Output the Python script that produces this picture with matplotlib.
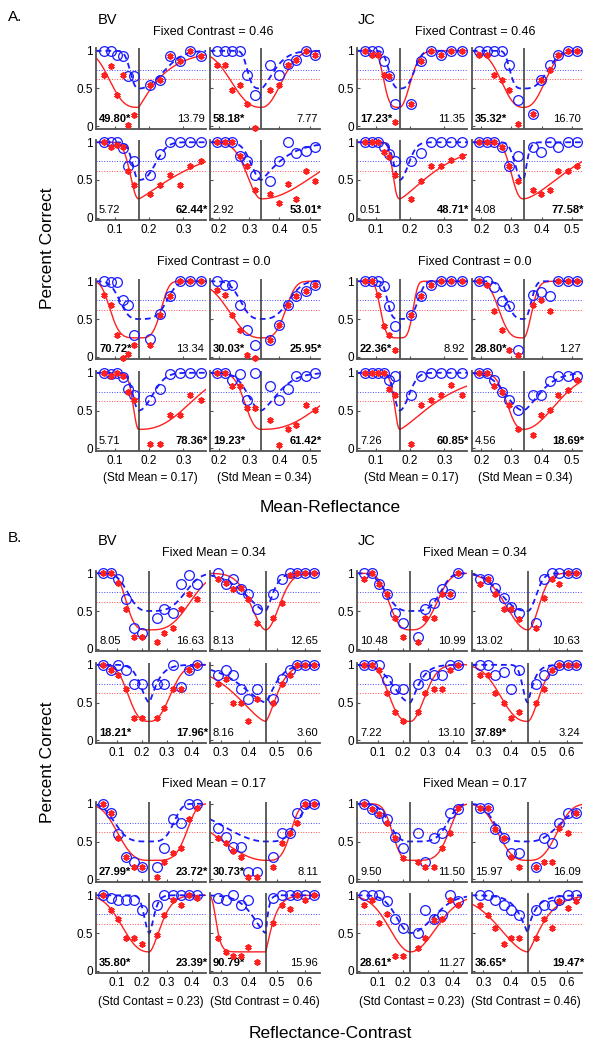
import numpy as np
import matplotlib
matplotlib.use('Agg')
import matplotlib.pyplot as plt

plt.rcParams['font.family'] = ['Liberation Sans', 'DejaVu Sans']

# comparison levels for each standard (6 below, 6 above the standard)
mean_017_x = [0.07, 0.089, 0.107, 0.125, 0.14, 0.156, 0.203, 0.232, 0.261, 0.29, 0.32, 0.35]
mean_034_x = [0.193, 0.22, 0.243, 0.268, 0.293, 0.32, 0.37, 0.398, 0.427, 0.456, 0.487, 0.518]
con_023_x = [0.045, 0.075, 0.105, 0.135, 0.17, 0.2, 0.26, 0.29, 0.325, 0.355, 0.39, 0.42]
con_046_x = [0.288, 0.318, 0.343, 0.373, 0.398, 0.428, 0.488, 0.518, 0.548, 0.573, 0.603, 0.633]

# panel order in every list: r1c1, r1c2, r2c1, r2c2, r3c1, r3c2, r4c1, r4c2
A_BV_circles = [
    [1.0, 1.0, 0.94, 0.93, 0.67, 0.67, 0.55, 0.61, 0.93, 0.87, 1.0, 0.93],
    [1.0, 1.0, 1.0, 1.0, 0.68, 0.42, 0.81, 0.68, 0.83, 0.875, 1.0, 0.94],
    [1.0, 1.0, 1.0, 0.92, 0.69, 0.75, 0.56, 0.84, 1.0, 1.0, 1.0, 1.0],
    [1.0, 1.0, 1.0, 0.82, 0.75, 0.56, 0.49, 0.75, 1.0, 0.86, 0.88, 0.94],
    [1.0, 0.99, 0.99, 0.75, 0.68, 0.29, 0.23, 0.56, 0.81, 1.0, 1.0, 1.0],
    [1.0, 0.95, 0.95, 0.68, 0.36, 0.16, 0.22, 0.42, 0.68, 0.8, 0.87, 0.95],
    [1.0, 0.98, 1.0, 0.95, 0.78, 0.71, 0.64, 0.78, 0.98, 1.0, 1.0, 1.0],
    [1.0, 1.0, 0.91, 0.98, 0.64, 1.0, 0.83, 0.64, 0.78, 0.96, 0.96, 1.0],
]
A_BV_stars = [
    [0.68, 0.80, 0.42, 0.68, 0.02, 0.15, 0.55, 0.61, 0.93, 0.87, 1.0, 0.93],
    [0.81, 0.81, 0.48, 0.54, 0.29, -0.02, 0.48, 0.54, 0.81, 0.875, 1.0, 0.94],
    [1.0, 0.94, 0.97, 0.94, 0.62, 0.43, 0.31, 0.43, 0.56, 0.43, 0.69, 0.75],
    [1.0, 1.0, 1.0, 0.82, 0.69, 0.37, 0.32, 0.19, 0.45, 0.25, 0.62, 0.49],
    [0.82, 0.69, 0.29, -0.02, 0.03, 0.16, 0.16, 0.55, 0.81, 1.0, 1.0, 1.0],
    [0.89, 0.82, 0.55, 0.36, 0.02, -0.02, 0.22, 0.42, 0.68, 0.8, 0.87, 0.95],
    [1.0, 0.96, 1.0, 0.96, 0.75, 0.64, 0.06, 0.06, 0.44, 0.44, 0.71, 0.64],
    [1.0, 1.0, 0.83, 0.83, 0.53, 0.53, 0.38, 0.04, 0.26, 0.31, 0.57, 0.51],
]
A_JC_circles = [
    [1.0, 1.0, 1.0, 0.87, 0.66, 0.29, 0.29, 0.87, 1.0, 0.94, 1.0, 1.0],
    [1.0, 1.0, 1.0, 1.0, 0.81, 0.35, 0.16, 0.61, 0.81, 0.94, 1.0, 1.0],
    [1.0, 1.0, 1.0, 0.94, 0.85, 0.75, 0.75, 0.86, 1.0, 1.0, 1.0, 1.0],
    [1.0, 1.0, 1.0, 0.94, 0.69, 0.82, 0.94, 0.87, 1.0, 0.94, 1.0, 1.0],
    [1.0, 1.0, 1.0, 0.94, 0.67, 0.41, 0.55, 0.81, 0.95, 1.0, 1.0, 1.0],
    [1.0, 1.0, 0.93, 0.74, 0.67, 0.09, 0.82, 0.86, 0.81, 1.0, 1.0, 1.0],
    [1.0, 1.0, 1.0, 1.0, 0.91, 0.96, 0.71, 0.96, 1.0, 1.0, 1.0, 1.0],
    [1.0, 1.0, 0.91, 0.75, 0.64, 0.51, 0.7, 0.71, 0.89, 0.96, 0.96, 0.96],
]
A_JC_stars = [
    [1.0, 0.94, 0.94, 0.68, 0.66, 0.05, 0.29, 0.87, 1.0, 0.94, 1.0, 1.0],
    [0.94, 0.94, 0.68, 0.61, 0.48, 0.03, 0.16, 0.61, 0.74, 0.94, 1.0, 1.0],
    [1.0, 1.0, 1.0, 0.87, 0.81, 0.56, 0.25, 0.49, 0.69, 0.69, 0.76, 0.82],
    [1.0, 1.0, 1.0, 0.94, 0.69, 0.49, 0.37, 0.32, 0.37, 0.62, 0.62, 0.69],
    [1.0, 1.0, 0.82, 0.41, 0.29, 0.09, 0.55, 0.81, 0.95, 1.0, 1.0, 1.0],
    [1.0, 0.95, 0.61, 0.36, 0.09, 0.02, 0.68, 0.75, 0.61, 1.0, 1.0, 1.0],
    [1.0, 1.0, 1.0, 1.0, 0.78, 0.71, 0.06, 0.57, 0.64, 0.71, 0.84, 0.71],
    [1.0, 1.0, 0.83, 0.75, 0.57, 0.25, 0.18, 0.44, 0.51, 0.7, 0.77, 0.91],
]
B_BV_circles = [
    [1.0, 1.0, 0.92, 0.66, 0.28, 0.21, 0.41, 0.52, 0.48, 0.86, 0.98, 0.86],
    [1.0, 0.86, 0.92, 0.79, 0.73, 0.53, 0.73, 0.92, 1.0, 1.0, 1.0, 1.0],
    [1.0, 0.93, 1.0, 0.93, 0.75, 0.75, 0.75, 0.75, 1.0, 0.7, 0.93, 1.0],
    [0.87, 0.93, 0.87, 0.68, 0.55, 0.68, 0.55, 0.81, 0.93, 1.0, 1.0, 1.0],
    [1.0, 0.88, 0.6, 0.29, 0.23, 0.16, 0.16, 0.41, 0.8, 0.74, 1.0, 1.0],
    [0.68, 0.56, 0.43, 0.43, 0.1, 0.1, 0.29, 0.61, 0.61, 0.88, 1.0, 1.0],
    [1.0, 0.96, 0.94, 0.94, 0.94, 0.8, 0.87, 1.0, 1.0, 1.0, 1.0, 1.0],
    [0.96, 0.94, 1.0, 0.87, 0.94, 0.63, 0.97, 1.0, 1.0, 1.0, 1.0, 1.0],
]
B_BV_stars = [
    [1.0, 1.0, 0.87, 0.53, 0.16, 0.16, 0.09, 0.21, 0.28, 0.53, 0.73, 0.66],
    [0.92, 0.87, 0.79, 0.8, 0.66, 0.34, 0.41, 0.6, 0.98, 1.0, 1.0, 1.0],
    [1.0, 0.93, 0.87, 0.68, 0.3, 0.3, 0.3, 0.43, 0.68, 0.68, 0.93, 1.0],
    [0.75, 0.81, 0.49, 0.49, 0.25, 0.55, 0.49, 0.75, 0.87, 1.0, 1.0, 1.0],
    [1.0, 0.88, 0.54, 0.29, 0.16, 0.16, 0.03, 0.23, 0.35, 0.41, 0.8, 0.95],
    [0.54, 0.48, 0.37, 0.29, 0.03, 0.03, 0.16, 0.48, 0.61, 0.75, 1.0, 1.0],
    [1.0, 0.81, 0.69, 0.43, 0.43, 0.36, 0.47, 0.74, 0.94, 0.87, 1.0, 0.96],
    [0.43, 0.25, 0.19, 0.19, 0.31, 0.12, 0.63, 0.87, 0.82, 1.0, 0.94, 1.0],
]
B_JC_circles = [
    [1.0, 1.0, 0.86, 0.73, 0.48, 0.34, 0.16, 0.53, 0.6, 0.79, 0.73, 1.0],
    [0.92, 0.92, 0.8, 0.67, 0.55, 0.47, 0.34, 0.92, 1.0, 1.0, 1.0, 1.0],
    [1.0, 1.0, 1.0, 0.8, 0.68, 0.68, 0.75, 0.87, 0.87, 0.87, 1.0, 1.0],
    [1.0, 1.0, 0.87, 0.9, 0.68, 0.93, 0.75, 0.87, 0.93, 1.0, 1.0, 1.0],
    [1.0, 0.93, 0.88, 0.8, 0.56, 0.41, 0.61, 0.23, 0.54, 0.61, 0.88, 0.93],
    [0.95, 0.95, 0.67, 0.54, 0.35, 0.35, 0.16, 0.54, 0.48, 0.74, 0.88, 0.88],
    [1.0, 1.0, 1.0, 0.93, 0.68, 0.56, 0.5, 0.81, 0.68, 0.74, 1.0, 0.93],
    [1.0, 1.0, 0.94, 0.87, 0.81, 0.74, 0.81, 0.87, 0.87, 0.94, 1.0, 1.0],
]
B_JC_stars = [
    [0.92, 1.0, 0.86, 0.72, 0.41, 0.16, 0.09, 0.41, 0.41, 0.73, 0.73, 1.0],
    [0.86, 0.92, 0.73, 0.53, 0.53, 0.4, 0.28, 0.67, 0.92, 0.86, 1.0, 1.0],
    [1.0, 1.0, 0.93, 0.62, 0.37, 0.25, 0.37, 0.62, 0.68, 0.68, 0.93, 1.0],
    [0.87, 0.87, 0.62, 0.49, 0.3, 0.37, 0.49, 0.68, 0.93, 1.0, 1.0, 1.0],
    [1.0, 0.93, 0.86, 0.75, 0.54, 0.28, 0.23, 0.16, 0.16, 0.41, 0.61, 0.95],
    [0.95, 0.95, 0.67, 0.54, 0.29, 0.16, 0.16, 0.23, 0.23, 0.68, 0.61, 0.88],
    [0.87, 0.94, 0.63, 0.75, 0.19, 0.19, 0.3, 0.43, 0.67, 0.68, 0.94, 0.87],
    [0.87, 0.74, 0.56, 0.36, 0.43, 0.43, 0.43, 0.69, 0.56, 0.93, 0.83, 0.93],
]

# fitted psychometric functions:
# distance from the standard at the threshold crossing, and slope,
# for [red left, red right, blue left, blue right]
A_BV_fits = [
    [0.086, 3, 0.058, 1.1, 0.026, 2.5, 0.078, 2.2],
    [0.105, 2.5, 0.072, 2.2, 0.047, 4, 0.045, 1.5],
    [0.027, 2.1, 0.136, 1.2, 0.02, 2, 0.053, 2.5],
    [0.053, 2, 0.2, 2, 0.038, 2, 0.062, 1.2],
    [0.083, 4.5, 0.065, 4, 0.056, 3, 0.083, 4],
    [0.111, 2.5, 0.081, 3.5, 0.071, 3, 0.092, 3],
    [0.018, 2, 0.156, 2.5, 0.019, 2, 0.046, 2],
    [0.057, 2.5, 0.215, 2.5, 0.05, 2, 0.06, 1.5],
]
A_JC_fits = [
    [0.047, 4, 0.034, 2, 0.032, 3, 0.044, 3],
    [0.077, 2.5, 0.075, 2.5, 0.046, 4, 0.082, 3],
    [0.021, 2.5, 0.106, 1.3, 0.019, 2, 0.029, 2],
    [0.043, 2.5, 0.148, 1.6, 0.031, 2.5, 0.012, 1.5],
    [0.056, 5, 0.039, 4, 0.036, 4, 0.054, 4],
    [0.082, 3.5, 0.029, 2, 0.058, 3, 0.027, 2.5],
    [0.017, 2, 0.111, 1.3, 0.018, 2, 0.031, 2],
    [0.058, 2.5, 0.117, 2, 0.066, 2, 0.059, 1.5],
]
B_BV_fits = [
    [0.093, 4, 0.164, 3, 0.088, 3, 0.144, 3.5],
    [0.059, 1.8, 0.055, 2, 0.082, 1.6, 0.028, 1.5],
    [0.088, 3, 0.087, 2.5, 0.039, 1.8, 0.029, 1.2],
    [0.116, 1.5, 0.043, 1.5, 0.098, 1.5, 0.036, 1.3],
    [0.129, 3, 0.148, 5, 0.139, 4, 0.097, 4],
    [0.2, 2, 0.09, 4, 0.176, 2, 0.111, 4],
    [0.116, 2.5, 0.049, 1.6, 0.023, 2, 0.02, 1.5],
    [0.177, 15, 0.025, 1.2, 0.052, 1.5, 0.008, 1.2],
]
B_JC_fits = [
    [0.087, 3, 0.107, 3, 0.099, 3, 0.12, 4],
    [0.087, 2, 0.045, 2, 0.103, 2.5, 0.034, 2],
    [0.089, 3, 0.063, 2, 0.075, 2, 0.035, 1.3],
    [0.105, 2.5, 0.045, 1.8, 0.021, 2, 0.019, 1.2],
    [0.073, 3, 0.153, 5, 0.087, 3, 0.148, 5],
    [0.109, 3, 0.106, 3, 0.121, 4, 0.121, 2.5],
    [0.095, 2, 0.116, 2, 0.063, 2, 0.103, 2],
    [0.116, 1.8, 0.054, 1.3, 0.031, 1.2, 0.019, 0.9],
]

A_BV_stats = [("49.80*", "13.79"), ("58.18*", "7.77"), ("5.72", "62.44*"), ("2.92", "53.01*"),
              ("70.72*", "13.34"), ("30.03*", "25.95*"), ("5.71", "78.36*"), ("19.23*", "61.42*")]
A_JC_stats = [("17.23*", "11.35"), ("35.32*", "16.70"), ("0.51", "48.71*"), ("4.08", "77.58*"),
              ("22.36*", "8.92"), ("28.80*", "1.27"), ("7.26", "60.85*"), ("4.56", "18.69*")]
B_BV_stats = [("8.05", "16.63"), ("8.13", "12.65"), ("18.21*", "17.96*"), ("8.16", "3.60"),
              ("27.99*", "23.72*"), ("30.73*", "8.11"), ("35.80*", "23.39*"), ("90.79*", "15.96")]
B_JC_stats = [("10.48", "10.99"), ("13.02", "10.63"), ("7.22", "13.10"), ("37.89*", "3.24"),
              ("9.50", "11.50"), ("15.97", "16.09"), ("28.61*", "11.27"), ("36.65*", "19.47*")]

A_std = [0.17, 0.34]
B_std = [0.23, 0.46]
A_xticks = [[0.1, 0.2, 0.3], [0.2, 0.3, 0.4, 0.5]]
B_xticks = [[0.1, 0.2, 0.3, 0.4], [0.3, 0.4, 0.5, 0.6]]
A_titles = ["Fixed Contrast = 0.46", "Fixed Contrast = 0.0"]
B_titles = ["Fixed Mean = 0.34", "Fixed Mean = 0.17"]
A_notes = ["(Std Mean = 0.17)", "(Std Mean = 0.34)"]
B_notes = ["(Std Contast = 0.23)", "(Std Contrast = 0.46)"]

BLUE = '#1a1aff'
RED = '#ff2020'
GRAY = '#505050'

W, H = 607, 1050
fig = plt.figure(figsize=(W / 100, H / 100), dpi=100)

PW, PH = 110.3, 80.0
col_px = {'BV': [95.7, 209.5], 'JC': [356.7, 471.7]}
A_rows_px = [88.5, 180, 319, 410.5]
B_rows_px = [611, 702.5, 841.5, 933]
A_xlims = [(0.045, 0.366), (0.168, 0.534)]
B_xlims = [(0.015, 0.456), (0.258, 0.655)]


def weibull(d, d50, slope, floor):
    a = d50 / np.log(2) ** (1 / slope)
    return floor + (1 - floor) * (1 - np.exp(-(d / a) ** slope))


def draw_panel(x0, yc, xs, circ, star, fit, std, xlim, xticks, stats, show_x, show_y):
    ax = fig.add_axes([x0 / W, 1 - (yc + PH / 2) / H, PW / W, PH / H])
    ax.axhline(0.75, color=BLUE, ls=':', lw=0.7, alpha=0.8)
    ax.axhline(0.625, color=RED, ls=':', lw=0.7, alpha=0.8)

    xl = np.linspace(xlim[0], std, 150)
    xr = np.linspace(std, xlim[1], 150)
    red = np.concatenate([weibull(std - xl, fit[0], fit[1], 0.25),
                          weibull(xr - std, fit[2], fit[3], 0.25)])
    blue = np.concatenate([weibull(std - xl, fit[4], fit[5], 0.5),
                           weibull(xr - std, fit[6], fit[7], 0.5)])
    xx = np.concatenate([xl, xr])
    ax.plot(xx, red, color=RED, lw=1.0)
    ax.plot(xx, blue, color=BLUE, lw=1.3, ls=(0, (3.2, 2.2)))
    ax.axvline(std, color='#333333', lw=1.1)

    ax.plot(xs, circ, 'o', ms=7, mfc='none', mec=BLUE, mew=0.9, clip_on=False, zorder=4)
    ax.plot(xs, star, marker=(6, 2, 0), ls='none', ms=4.5, mec=RED, mew=1.3,
            clip_on=False, zorder=5)

    ax.set_xlim(*xlim)
    ax.set_ylim(-0.03, 1.03)
    for s in ['top', 'right']:
        ax.spines[s].set_visible(False)
    for s in ['left', 'bottom']:
        ax.spines[s].set_color(GRAY)
        ax.spines[s].set_linewidth(1.3)
    ax.set_xticks(xticks)
    ax.set_yticks([0, 0.5, 1])
    ax.set_xticklabels([f"{v:g}" for v in xticks] if show_x else [])
    ax.set_yticklabels(["0", "0.5", "1"] if show_y else [])
    ax.tick_params(direction='in', length=2.5, width=0.8, color=GRAY,
                   labelsize=8.5, pad=2)
    ax.tick_params(axis='x', pad=3)

    left, right = stats
    ax.text(0.03, 0.12, left, transform=ax.transAxes, fontsize=8,
            ha='left', va='center', fontweight='bold' if '*' in left else 'normal')
    ax.text(1.02 if '*' in right else 0.985, 0.12, right, transform=ax.transAxes,
            fontsize=8, ha='right', va='center',
            fontweight='bold' if '*' in right else 'normal')


def draw_part(rows_px, xsets, stds, xlims, xticks, data):
    for subj, circles, stars, fits, stats in data:
        for i in range(8):
            r, c = divmod(i, 2)
            draw_panel(col_px[subj][c], rows_px[r], xsets[c], circles[i], stars[i],
                       fits[i], stds[c], xlims[c], xticks[c], stats[i],
                       show_x=(r % 2 == 1), show_y=(c == 0))


draw_part(A_rows_px, [mean_017_x, mean_034_x], A_std, A_xlims, A_xticks,
          [('BV', A_BV_circles, A_BV_stars, A_BV_fits, A_BV_stats),
           ('JC', A_JC_circles, A_JC_stars, A_JC_fits, A_JC_stats)])
draw_part(B_rows_px, [con_023_x, con_046_x], B_std, B_xlims, B_xticks,
          [('BV', B_BV_circles, B_BV_stars, B_BV_fits, B_BV_stats),
           ('JC', B_JC_circles, B_JC_stars, B_JC_fits, B_JC_stats)])


def ftext(x, y, s, **kw):
    fig.text(x / W, 1 - y / H, s, **kw)


# part letters, subjects, group titles
for letter, y_let, y_subj, titles, t_y, notes, n_y, ylab_y, xlab, xlab_y in [
        ("A.", 17, 20, A_titles, [32, 262], A_notes, 478, 248, "Mean-Reflectance", 508),
        ("B.", 538, 541, B_titles, [553.5, 784], B_notes, 1001.5, 762, "Reflectance-Contrast", 1033)]:
    ftext(8, y_let, letter, fontsize=11, va='center', ha='left')
    for subj, xs in [("BV", 98), ("JC", 358)]:
        ftext(xs, y_subj, subj, fontsize=10.5, va='center', ha='left')
    for cx in [213.5, 475]:
        for t, ty in zip(titles, t_y):
            ftext(cx, ty, t, fontsize=9, va='center', ha='center')
    for c0 in [95.7, 356.7]:
        for k, note in enumerate(notes):
            ftext(c0 + k * 113.8 + PW / 2, n_y, note, fontsize=8.5, va='center', ha='center')
    ftext(48, ylab_y, "Percent Correct", fontsize=12.5, rotation=90, va='center', ha='center')
    ftext(330, xlab_y, xlab, fontsize=12.5, va='center', ha='center')

fig.savefig('out.png', dpi=100)
